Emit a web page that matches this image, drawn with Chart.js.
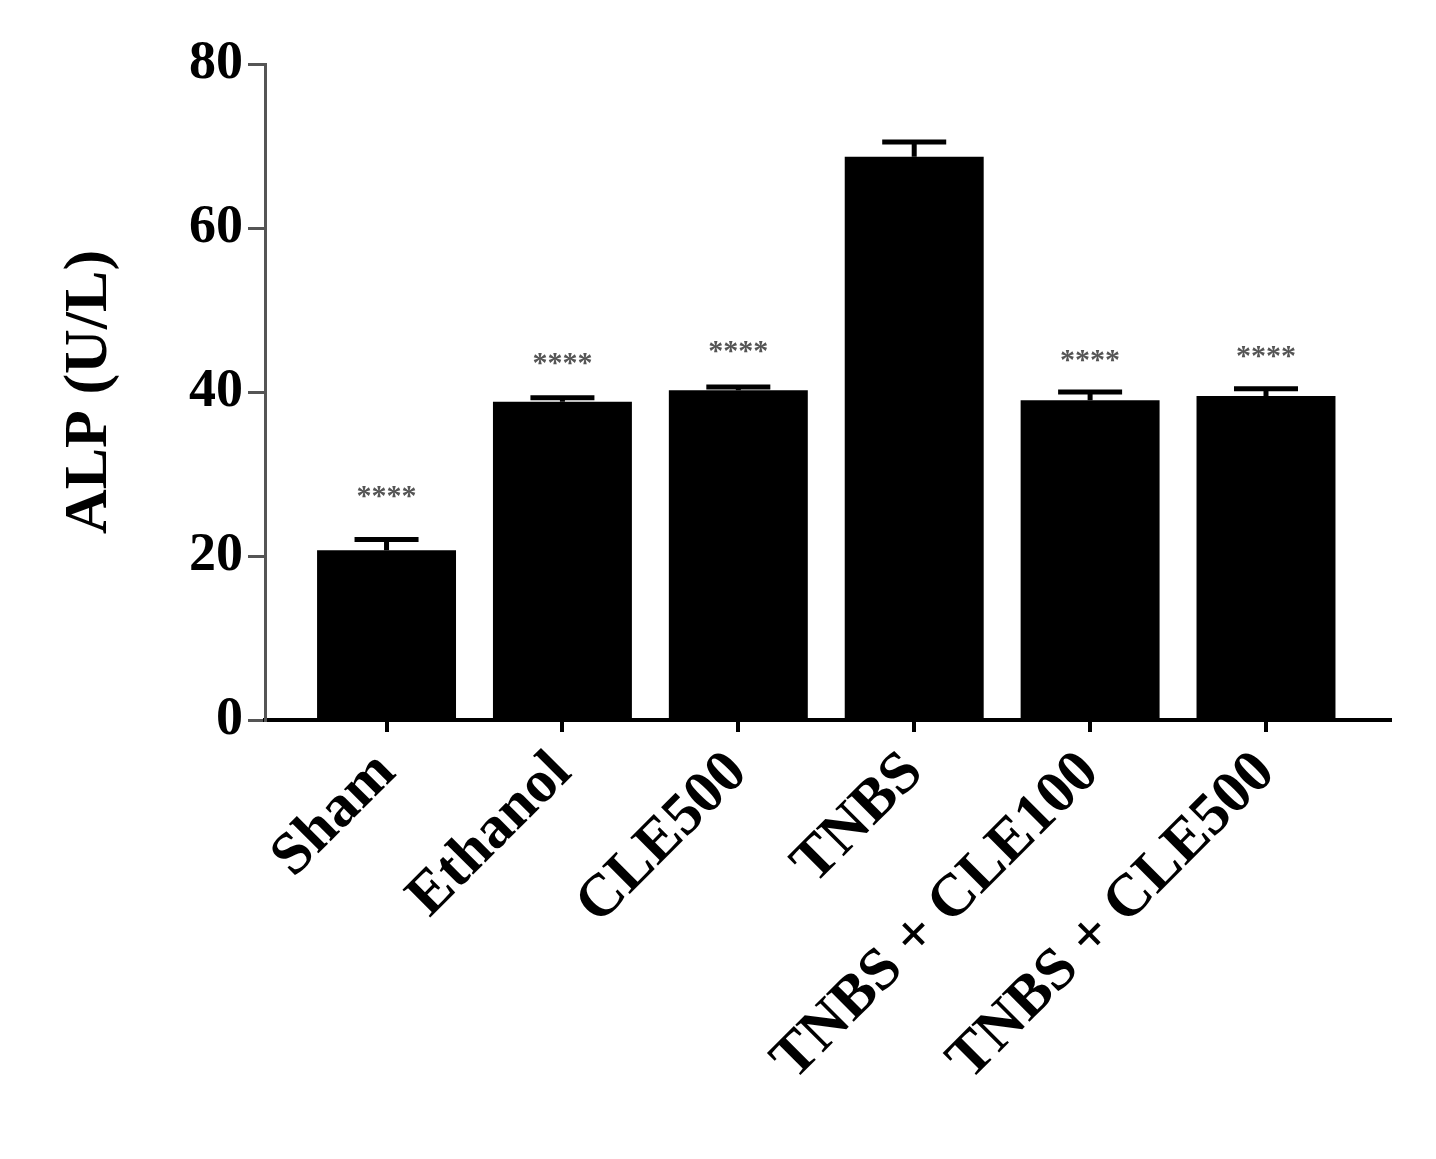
<!DOCTYPE html>
<html>
<head>
<meta charset="utf-8">
<script src="https://cdn.jsdelivr.net/npm/chart.js@4.4.1/dist/chart.umd.min.js"></script>
<style>
  body { margin: 0; background: #fff; }
  canvas { display: block; }
</style>
</head>
<body>
<canvas id="alpChart" width="1436" height="1159"></canvas>
<script>
/* global Chart */

// groups on the x axis
const categories = ['Sham', 'Ethanol', 'CLE500', 'TNBS', 'TNBS + CLE100', 'TNBS + CLE500'];
// mean ALP (U/L) and upper error (SEM)
const means = [20.7, 38.8, 40.2, 68.7, 39.0, 39.5];
const errors = [1.3, 0.5, 0.4, 1.8, 1.0, 0.9];
// significance marks and the level they sit at
const stars = ['****', '****', '****', '', '****', '****'];
const starLevels = [28.2, 44.4, 45.9, null, 44.8, 45.2];
// y axis ticks
const yTicks = [0, 20, 40, 60, 80];

const serif = '"Liberation Serif", "Times New Roman", serif';

// error bars (upper only) and the stars above them
const errorBarPlugin = {
  id: 'errorBars',
  afterDatasetsDraw(chart) {
    const ctx = chart.ctx;
    const xs = chart.scales.x;
    const ys = chart.scales.y;
    ctx.save();
    ctx.strokeStyle = '#000';
    ctx.lineWidth = 5;
    for (let i = 0; i < means.length; i++) {
      const x = xs.getPixelForValue(i);
      const yTop = ys.getPixelForValue(means[i]);
      const yErr = ys.getPixelForValue(means[i] + errors[i]);
      ctx.beginPath();
      ctx.moveTo(x, yTop);
      ctx.lineTo(x, yErr);
      ctx.moveTo(x - 32, yErr);
      ctx.lineTo(x + 32, yErr);
      ctx.stroke();

      if (stars[i] && starLevels[i] !== null) {
        ctx.fillStyle = '#555';
        ctx.font = 'bold 30px ' + serif;
        ctx.textAlign = 'center';
        ctx.textBaseline = 'alphabetic';
        ctx.fillText(stars[i], x, ys.getPixelForValue(starLevels[i]) + 16);
      }
    }
    ctx.restore();
  },
};

const ctx = document.getElementById('alpChart');
const alpChart = new Chart(ctx, {
  type: 'bar',
  data: {
    datasets: [
      {
        label: 'ALP',
        data: categories.map((c, i) => ({ x: i, y: means[i] })),
        backgroundColor: '#000',
        borderWidth: 0,
        categoryPercentage: 1,
        barPercentage: 0.79,
      },
    ],
  },
  options: {
    responsive: false,
    animation: false,
    layout: {
      padding: { top: 64, right: 46, bottom: 0, left: 0 },
    },
    plugins: {
      legend: { display: false },
      tooltip: { enabled: false },
    },
    scales: {
      x: {
        type: 'linear',
        min: -0.691,
        max: 5.705,
        offset: false,
        border: { display: true, color: '#000', width: 4 },
        grid: {
          offset: false,
          drawOnChartArea: false,
          drawTicks: true,
          tickLength: 12,
          color: '#000',
          lineWidth: 4,
        },
        ticks: {
          stepSize: 1,
          includeBounds: false,
          autoSkip: false,
          minRotation: 45,
          maxRotation: 45,
          padding: 6,
          color: '#000',
          font: { family: serif, size: 60, weight: 'bold' },
          callback: (v) => (Number.isInteger(v) && categories[v] !== undefined ? categories[v] : ''),
        },
        afterFit: (scale) => {
          scale.height = 1159 - 720;
        },
      },
      y: {
        min: 0,
        max: 80,
        border: { display: true, color: '#555', width: 3 },
        grid: {
          drawOnChartArea: false,
          drawTicks: true,
          tickLength: 17,
          color: '#555',
          lineWidth: 3,
        },
        afterBuildTicks: (scale) => {
          scale.ticks = yTicks.map((v) => ({ value: v }));
        },
        ticks: {
          padding: 5,
          color: '#000',
          font: { family: serif, size: 54, weight: 'bold' },
        },
        title: {
          display: true,
          text: 'ALP (U/L)',
          color: '#000',
          padding: { top: 53, bottom: 0 },
          font: { family: serif, size: 62, weight: 'bold', lineHeight: 1.2 },
        },
        afterFit: (scale) => {
          scale.width = 265;
        },
      },
    },
  },
  plugins: [errorBarPlugin],
});
</script>
</body>
</html>
